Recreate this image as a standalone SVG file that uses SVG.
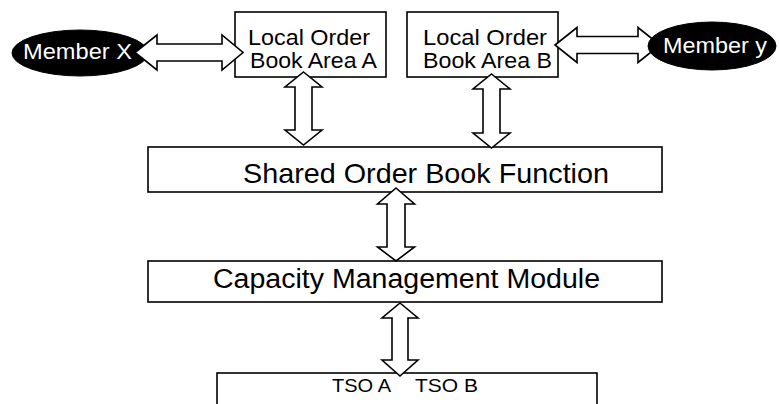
<svg xmlns="http://www.w3.org/2000/svg" width="779" height="404" viewBox="0 0 779 404">
<style>
.box{fill:#fff;stroke:#000;stroke-width:1.6}
.ell{fill:#000;stroke:#000;stroke-width:1}
.arr{fill:#fff;stroke:#000;stroke-width:1.6;stroke-linejoin:miter}
text{font-family:"Liberation Sans",Arial,sans-serif;fill:#000}
.w{fill:#fff}
</style>
<rect width="779" height="404" fill="#fff"/>
<g id="member-x">
<ellipse class="ell" cx="80" cy="53" rx="68" ry="23"/>
<text class="w" x="23" y="59" font-size="22" textLength="109" lengthAdjust="spacingAndGlyphs">Member X</text>
</g>
<g id="local-a">
<rect class="box" x="235" y="12" width="151" height="65"/>
<text x="248" y="45" font-size="22.5" textLength="122" lengthAdjust="spacingAndGlyphs">Local Order</text>
<text x="250" y="68" font-size="22.5" textLength="127" lengthAdjust="spacingAndGlyphs">Book Area A</text>
</g>
<g id="local-b">
<rect class="box" x="407" y="12" width="151" height="65"/>
<text x="423" y="45" font-size="22.5" textLength="124" lengthAdjust="spacingAndGlyphs">Local Order</text>
<text x="423" y="68" font-size="22.5" textLength="129" lengthAdjust="spacingAndGlyphs">Book Area B</text>
</g>
<g id="shared">
<rect class="box" x="148" y="147" width="514" height="45"/>
<text x="243" y="183" font-size="28" textLength="366" lengthAdjust="spacingAndGlyphs">Shared Order Book Function</text>
</g>
<g id="capacity">
<rect class="box" x="148" y="261" width="514" height="41"/>
<text x="213" y="288" font-size="27" textLength="387" lengthAdjust="spacingAndGlyphs">Capacity Management Module</text>
</g>
<g id="tso">
<rect class="box" x="217" y="373" width="380" height="50"/>
<text x="332" y="392" font-size="19" textLength="59" lengthAdjust="spacingAndGlyphs">TSO A</text>
<text x="415" y="392" font-size="19" textLength="63" lengthAdjust="spacingAndGlyphs">TSO B</text>
</g>
<g id="connectors">
<polygon class="arr" points="135,52.5 157,35 157,44 222,44 222,35 243,52.5 222,70 222,61 157,61 157,70"/>
<polygon class="arr" points="555,45 577,27.5 577,36.5 638,36.5 638,27.5 660,45 638,62.5 638,53.5 577,53.5 577,62.5"/>
<polygon class="arr" points="303.5,72 322,87 312,87 312,130 322,130 303.5,145 285,130 295,130 295,87 285,87"/>
<polygon class="arr" points="491.5,74 510,89 500,89 500,133 510,133 491.5,148 473,133 483,133 483,89 473,89"/>
<polygon class="arr" points="396,188 414.5,204 405,204 405,247 414.5,247 396,261 377.5,247 387,247 387,204 377.5,204"/>
<polygon class="arr" points="400,303 418,318 408,318 408,360 418,360 400,376 382,360 392,360 392,318 382,318"/>
</g>
<g id="member-y">
<ellipse class="ell" cx="712" cy="46" rx="64" ry="24"/>
<text class="w" x="663" y="53" font-size="22" textLength="104" lengthAdjust="spacingAndGlyphs">Member y</text>
</g>
</svg>
